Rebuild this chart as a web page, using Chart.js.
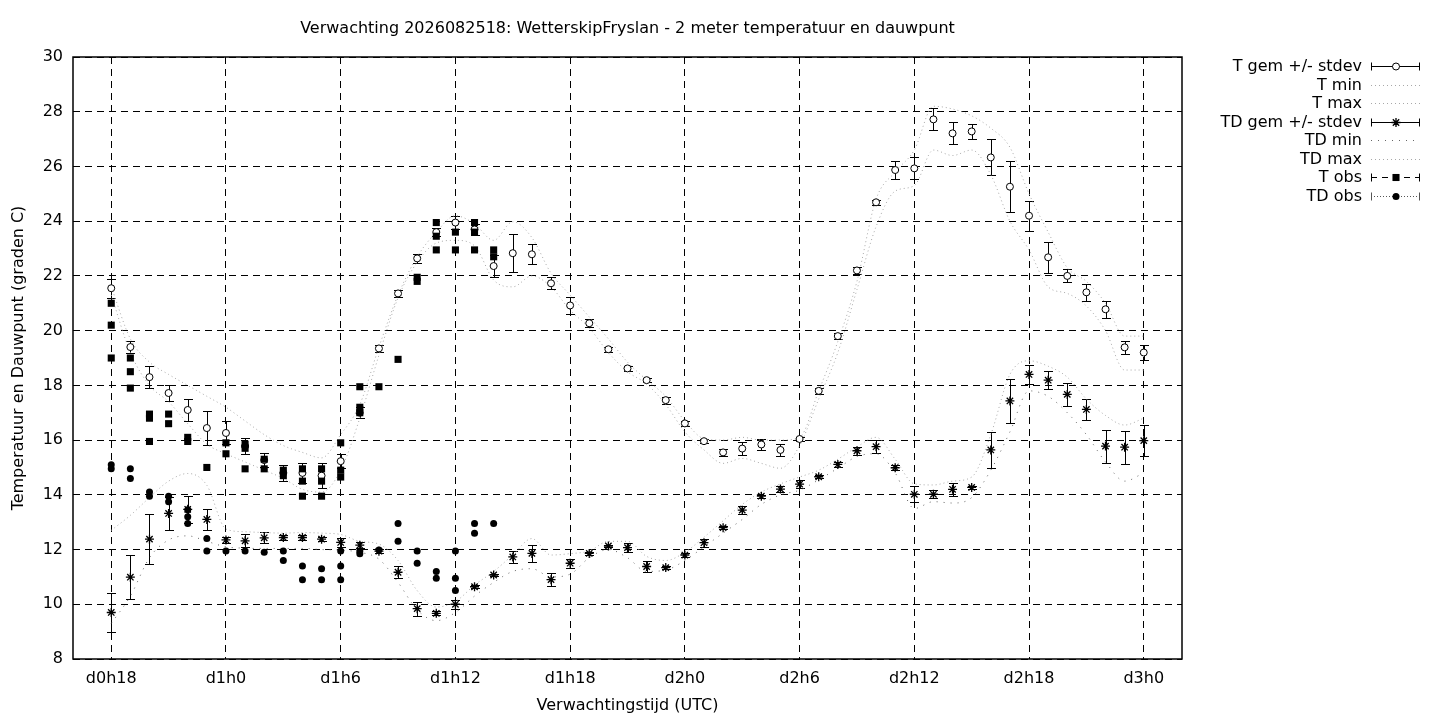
<!DOCTYPE html>
<html>
<head>
<meta charset="utf-8">
<title>Verwachting 2026082518 - WetterskipFryslan</title>
<script src="https://cdn.jsdelivr.net/npm/chart.js@4.4.0/dist/chart.umd.min.js"></script>
<style>
  html, body { margin: 0; padding: 0; background: #fff; }
  #wrap { width: 1440px; height: 720px; }
</style>
</head>
<body>
<div id="wrap"><canvas id="tempChart" width="1440" height="720"></canvas></div>
<script>
// forecast hour, counted from d0h0
const hours = [18, 19, 20, 21, 22, 23, 24, 25, 26, 27, 28, 29, 30, 31, 32, 33, 34, 35, 36,
  37, 38, 39, 40, 41, 42, 43, 44, 45, 46, 47, 48, 49, 50, 51, 52, 53, 54, 55, 56, 57, 58,
  59, 60, 61, 62, 63, 64, 65, 66, 67, 68, 69, 70, 71, 72];

// 2 m temperature: ensemble mean, stdev, min, max
const tGem = [21.55, 19.4, 18.3, 17.72, 17.1, 16.44, 16.26, 15.78, 15.27, 14.8, 14.8, 14.7, 15.23,
  17.0, 19.35, 21.36, 22.64, 23.6, 23.95, 23.7, 22.36, 22.83, 22.79, 21.73, 20.92, 20.27, 19.32,
  18.62, 18.19, 17.46, 16.61, 15.96, 15.55, 15.69, 15.84, 15.64, 16.04, 17.8, 19.8, 22.2, 24.69,
  25.87, 25.93, 27.72, 27.21, 27.28, 26.33, 25.26, 24.2, 22.68, 22.0, 21.4, 20.78, 19.39, 19.2];
const tSd = [0.35, 0.22, 0.4, 0.3, 0.4, 0.62, 0.42, 0.28, 0.25, 0.3, 0.37, 0.45, 0.25,
  0.2, 0.14, 0.14, 0.17, 0.15, 0.25, 0.2, 0.4, 0.7, 0.36, 0.22, 0.3, 0.15, 0.1,
  0.1, 0.08, 0.13, 0.1, 0.08, 0.12, 0.25, 0.2, 0.22, 0.08, 0.1, 0.1, 0.12, 0.1,
  0.33, 0.4, 0.4, 0.4, 0.28, 0.66, 0.94, 0.55, 0.56, 0.24, 0.3, 0.31, 0.24, 0.29];
const tMin = [21.3, 19.2, 18.0, 17.4, 16.6, 15.85, 15.5, 15.2, 14.9, 14.6, 14.2, 14.1, 14.9,
  16.8, 19.1, 21.2, 22.5, 23.2, 23.3, 23.1, 21.85, 21.6, 22.0, 21.6, 20.75, 20.1, 19.2,
  18.5, 18.05, 17.3, 16.3, 15.64, 15.15, 15.33, 15.15, 14.97, 15.8, 17.5, 19.2, 21.5, 23.8,
  25.1, 25.3, 26.6, 26.4, 26.6, 25.7, 24.0, 22.95, 21.6, 21.36, 20.9, 20.0, 18.56, 18.56];
const tMax = [21.6, 19.7, 18.85, 18.4, 18.0, 17.6, 17.2, 16.7, 16.2, 15.8, 15.55, 15.35, 16.2,
  17.3, 19.4, 21.3, 22.7, 23.6, 24.2, 23.9, 23.3, 23.98, 23.4, 22.1, 21.3, 20.5, 19.7,
  18.85, 18.2, 17.6, 16.7, 16.05, 16.0, 16.1, 16.0, 16.0, 16.1, 17.8, 19.6, 21.8, 24.8,
  25.8, 26.6, 28.2, 28.1, 27.85, 27.4, 26.7, 25.0, 23.6, 22.3, 21.8, 21.0, 19.8, 19.8];

// dew point: ensemble mean, stdev, min, max
const tdGem = [9.7, 10.99, 12.38, 13.32, 13.47, 13.1, 12.35, 12.32, 12.43, 12.44, 12.44, 12.38, 12.26,
  12.16, 11.94, 11.17, 9.84, 9.67, 10.0, 10.64, 11.07, 11.73, 11.86, 10.9, 11.5, 11.86, 12.13,
  12.07, 11.38, 11.34, 11.8, 12.25, 12.8, 13.44, 13.95, 14.21, 14.39, 14.66, 15.11, 15.61, 15.76,
  14.99, 14.02, 14.02, 14.2, 14.27, 15.64, 17.43, 18.4, 18.19, 17.67, 17.12, 15.78, 15.74, 15.98];
const tdSd = [0.7, 0.8, 0.92, 0.6, 0.5, 0.38, 0.1, 0.24, 0.2, 0.08, 0.08, 0.08, 0.15,
  0.1, 0.08, 0.22, 0.26, 0.08, 0.16, 0.05, 0.05, 0.22, 0.3, 0.25, 0.16, 0.05, 0.05,
  0.17, 0.2, 0.05, 0.08, 0.15, 0.05, 0.15, 0.05, 0.12, 0.15, 0.05, 0.08, 0.15, 0.25,
  0.1, 0.3, 0.15, 0.24, 0.05, 0.66, 0.79, 0.35, 0.34, 0.43, 0.38, 0.6, 0.61, 0.56];
const tdMin = [9.3, 10.3, 11.7, 12.35, 12.5, 12.3, 12.1, 12.05, 12.04, 12.04, 12.04, 12.0, 11.98,
  11.9, 11.65, 10.8, 9.8, 9.4, 9.7, 10.3, 10.8, 11.2, 11.3, 11.0, 11.1, 11.7, 12.0,
  11.7, 11.2, 11.25, 11.6, 12.1, 12.6, 13.1, 13.65, 14.0, 14.17, 14.55, 14.97, 15.4, 15.5,
  14.8, 13.5, 13.75, 13.7, 13.9, 14.9, 16.3, 17.8, 17.6, 17.0, 16.2, 15.2, 14.5, 14.8];
const tdMax = [12.7, 13.25, 13.9, 14.5, 14.78, 14.35, 12.75, 12.65, 12.62, 12.6, 12.62, 12.6, 12.55,
  12.3, 12.2, 11.6, 10.5, 9.9, 10.1, 10.7, 11.2, 11.8, 12.4, 11.8, 11.85, 11.95, 12.3,
  12.3, 11.75, 11.6, 11.9, 12.45, 13.05, 13.65, 14.1, 14.4, 14.65, 14.9, 15.3, 15.75, 16.1,
  15.3, 14.4, 14.36, 14.5, 14.65, 16.2, 18.4, 18.9, 18.7, 18.3, 17.5, 16.9, 16.55, 16.8];

// station observations
const tObsHours = [18, 18, 18, 19, 19, 19, 20, 20, 20, 21, 21, 22, 22, 23, 24, 24, 25, 25, 25,
  26, 26, 27, 27, 28, 28, 28, 29, 29, 29, 30, 30, 30, 31, 31, 31, 32, 33, 34, 34,
  35, 35, 35, 36, 36, 37, 37, 37, 38, 38];
const tObsValues = [21.0, 20.2, 19.0, 19.0, 18.5, 17.9, 16.95, 16.8, 15.95, 16.95, 16.6, 16.1, 15.95, 15.0, 15.9, 15.5, 15.85, 15.7, 14.95,
  15.3, 14.95, 14.9, 14.7, 14.95, 14.5, 13.95, 14.95, 14.5, 13.95, 15.9, 14.9, 14.65, 17.95, 17.2, 17.0, 17.95, 18.95, 21.95, 21.8,
  23.95, 23.45, 22.95, 23.6, 22.95, 23.95, 23.6, 22.95, 22.95, 22.7];
const tdObsHours = [18, 18, 19, 19, 20, 20, 21, 21, 22, 22, 22, 23, 23, 24, 25, 26, 27, 27, 28, 28,
  29, 29, 30, 30, 30, 31, 31, 32, 33, 33, 34, 34, 35, 35, 36, 36, 36, 37, 37, 38];
const tdObsValues = [15.1, 14.95, 14.95, 14.6, 14.1, 13.95, 13.95, 13.75, 13.45, 13.2, 12.95, 12.4, 11.95, 11.95, 11.95, 11.9, 11.95, 11.6, 11.4, 10.9,
  11.3, 10.9, 11.95, 11.4, 10.9, 11.95, 11.85, 11.98, 12.95, 12.3, 11.95, 11.5, 11.2, 10.95, 11.95, 10.95, 10.5, 12.95, 12.6, 12.95];

const xTickHours = [18, 24, 30, 36, 42, 48, 54, 60, 66, 72];
const xTickLabels = ["d0h18", "d1h0", "d1h6", "d1h12", "d1h18", "d2h0", "d2h6", "d2h12", "d2h18", "d3h0"];
const legendLabels = ["T gem +/- stdev", "T min", "T max", "TD gem +/- stdev", "TD min", "TD max", "T obs", "TD obs"];

const FONT = "'DejaVu Sans', 'Liberation Sans', sans-serif";
Chart.defaults.font.family = FONT;
Chart.defaults.font.size = 16;
Chart.defaults.color = '#000';

function pairs(xs, ys) {
  return xs.map((x, i) => ({ x: x, y: ys[i] }));
}

const LIGHT = '#a8a8a8';

// vertical error bars with caps, drawn under the point markers
const errorBars = {
  id: 'errorBars',
  beforeDatasetsDraw(chart) {
    const { ctx, scales: { x, y } } = chart;
    ctx.save();
    ctx.strokeStyle = '#000';
    ctx.lineWidth = 1;
    [[tGem, tSd], [tdGem, tdSd]].forEach(([mean, sd]) => {
      hours.forEach((h, i) => {
        const px = Math.round(x.getPixelForValue(h)) + 0.5;
        const lo = Math.round(y.getPixelForValue(mean[i] - sd[i])) + 0.5;
        const hi = Math.round(y.getPixelForValue(mean[i] + sd[i])) + 0.5;
        ctx.beginPath();
        ctx.moveTo(px, lo); ctx.lineTo(px, hi);
        ctx.moveTo(px - 4.5, lo); ctx.lineTo(px + 4.5, lo);
        ctx.moveTo(px - 4.5, hi); ctx.lineTo(px + 4.5, hi);
        ctx.stroke();
      });
    });
    // frame around the plot area
    const a = chart.chartArea;
    ctx.lineWidth = 1.5;
    ctx.strokeRect(a.left, a.top, a.right - a.left, a.bottom - a.top);
    ctx.restore();
  }
};

// gnuplot style key at the right
const sideKey = {
  id: 'sideKey',
  afterDraw(chart) {
    const ctx = chart.ctx;
    const textRight = 1362, x0 = 1371, x1 = 1420, xm = 1396;
    ctx.save();
    ctx.font = '16px ' + FONT;
    ctx.textAlign = 'right';
    ctx.textBaseline = 'middle';
    legendLabels.forEach((label, i) => {
      const y = Math.round(66 + i * 18.5) + 0.5;
      ctx.fillStyle = '#000';
      ctx.fillText(label, textRight, y);
      ctx.lineWidth = 1;
      ctx.beginPath();
      if (i === 0 || i === 3 || i === 6 || i === 7) {
        ctx.strokeStyle = i === 7 ? '#555' : '#000';
        ctx.setLineDash(i === 6 ? [6, 5] : (i === 7 ? [1, 2] : []));
        ctx.moveTo(x0, y); ctx.lineTo(x1, y);
        ctx.stroke();
        ctx.setLineDash([]);
        ctx.beginPath();
        ctx.moveTo(x0 + 0.5, y - 4); ctx.lineTo(x0 + 0.5, y + 4);
        ctx.moveTo(x1 - 0.5, y - 4); ctx.lineTo(x1 - 0.5, y + 4);
        ctx.stroke();
        const style = [
          { pointStyle: 'circle', radius: 3.5, borderWidth: 1, fill: '#fff' },
          null, null,
          { pointStyle: 'star', radius: 4.5, borderWidth: 1.3, fill: '#000' },
          null, null,
          { pointStyle: 'rect', radius: 5, borderWidth: 0, fill: '#000' },
          { pointStyle: 'circle', radius: 3.5, borderWidth: 0, fill: '#000' }
        ][i];
        ctx.fillStyle = style.fill;
        ctx.strokeStyle = '#000';
        ctx.lineWidth = style.borderWidth || 1;
        Chart.helpers.drawPoint(ctx, { pointStyle: style.pointStyle, radius: style.radius, rotation: 0, borderWidth: style.borderWidth }, xm, y);
      } else {
        ctx.strokeStyle = i === 4 ? '#666' : LIGHT;
        ctx.setLineDash(i === 4 ? [1, 6] : [1, 3]);
        ctx.moveTo(x0, y); ctx.lineTo(x1, y);
        ctx.stroke();
        ctx.setLineDash([]);
      }
    });
    ctx.restore();
  }
};

const lineStyle = (color, dash) => ({
  type: 'line', showLine: true, pointRadius: 0, borderColor: color, borderWidth: 1,
  borderDash: dash, cubicInterpolationMode: 'monotone', fill: false
});

const ctx = document.getElementById('tempChart').getContext('2d');
const tempChart = new Chart(ctx, {
  type: 'line',
  data: {
    datasets: [
      Object.assign({ label: 'T min', data: pairs(hours, tMin), order: 8 }, lineStyle(LIGHT, [1, 3])),
      Object.assign({ label: 'T max', data: pairs(hours, tMax), order: 7 }, lineStyle(LIGHT, [1, 3])),
      Object.assign({ label: 'TD min', data: pairs(hours, tdMin), order: 6 }, lineStyle('#666', [1, 6])),
      Object.assign({ label: 'TD max', data: pairs(hours, tdMax), order: 5 }, lineStyle(LIGHT, [1, 3])),
      {
        label: 'T gem +/- stdev', data: pairs(hours, tGem), showLine: false, order: 3,
        pointStyle: 'circle', pointRadius: 3.5, pointBackgroundColor: '#fff',
        pointBorderColor: '#000', pointBorderWidth: 1
      },
      {
        label: 'TD gem +/- stdev', data: pairs(hours, tdGem), showLine: false, order: 2,
        pointStyle: 'star', pointRadius: 4.5, pointBorderColor: '#000', pointBorderWidth: 1.3
      },
      {
        label: 'T obs', data: pairs(tObsHours, tObsValues), showLine: false, order: 1,
        pointStyle: 'rect', pointRadius: 5, pointBackgroundColor: '#000',
        pointBorderColor: '#000', pointBorderWidth: 0
      },
      {
        label: 'TD obs', data: pairs(tdObsHours, tdObsValues), showLine: false, order: 0,
        pointStyle: 'circle', pointRadius: 3.5, pointBackgroundColor: '#000',
        pointBorderColor: '#000', pointBorderWidth: 0
      }
    ]
  },
  options: {
    responsive: false,
    animation: false,
    devicePixelRatio: 1,
    layout: { padding: { left: 0, right: 258, top: 0, bottom: 0 } },
    plugins: {
      legend: { display: false },
      tooltip: { enabled: false },
      title: {
        display: true,
        fullSize: false,
        text: 'Verwachting 2026082518: WetterskipFryslan - 2 meter temperatuur en dauwpunt',
        font: { size: 16, weight: 'normal' },
        color: '#000',
        padding: { top: 19.4, bottom: 18.4 }
      }
    },
    scales: {
      x: {
        type: 'linear',
        min: 16,
        max: 74,
        afterBuildTicks: axis => { axis.ticks = xTickHours.map(v => ({ value: v })); },
        afterFit: axis => { axis.height = 61; },
        ticks: {
          autoSkip: false, maxRotation: 0, padding: 10,
          callback: v => xTickLabels[xTickHours.indexOf(v)]
        },
        grid: { color: '#000', lineWidth: 1, drawTicks: false },
        border: { display: false, dash: [7, 5] },
        title: { display: true, text: 'Verwachtingstijd (UTC)', padding: { top: 0, bottom: 4.5 } }
      },
      y: {
        min: 8,
        max: 30,
        afterFit: axis => { axis.width = 73; },
        ticks: { stepSize: 2, padding: 10 },
        grid: { color: '#000', lineWidth: 1, drawTicks: false },
        border: { display: false, dash: [7, 5] },
        title: { display: true, text: 'Temperatuur en Dauwpunt (graden C)', padding: { top: 9, bottom: 0 } }
      }
    }
  },
  plugins: [errorBars, sideKey]
});
</script>
</body>
</html>
